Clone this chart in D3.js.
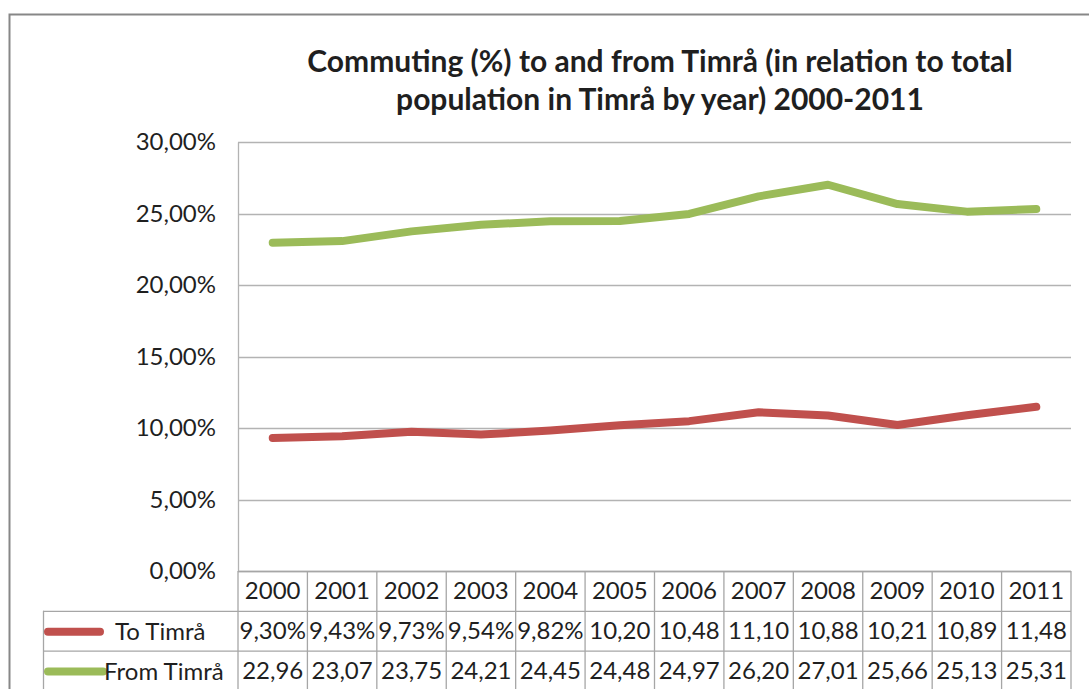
<!DOCTYPE html>
<html>
<head>
<meta charset="utf-8">
<script src="https://cdn.jsdelivr.net/npm/d3@7"></script>
<style>
  html, body { margin: 0; padding: 0; background: #fff; }
  svg { display: block; }
  text { font-family: Lato, "Open Sans", sans-serif; fill: #1f1f1f; }
</style>
</head>
<body>
<svg id="chart" width="1089" height="689"></svg>
<script>
// Commuting share by year
const years = ["2000","2001","2002","2003","2004","2005","2006","2007","2008","2009","2010","2011"];
const toTimra   = [9.30, 9.43, 9.73, 9.54, 9.82, 10.20, 10.48, 11.10, 10.88, 10.21, 10.89, 11.48];
const fromTimra = [22.96, 23.07, 23.75, 24.21, 24.45, 24.48, 24.97, 26.20, 27.01, 25.66, 25.13, 25.31];
// Cell text as shown in the data table (narrow cells clip the trailing %)
const toLabels   = ["9,30%","9,43%","9,73%","9,54%","9,82%","10,20","10,48","11,10","10,88","10,21","10,89","11,48"];
const fromLabels = ["22,96","23,07","23,75","24,21","24,45","24,48","24,97","26,20","27,01","25,66","25,13","25,31"];
const yTicks = [0, 5, 10, 15, 20, 25, 30];
const seriesNames = ["To Timrå", "From Timrå"];
const titleLines = ["Commuting (%) to and from Timrå (in relation to total", "population in Timrå by year) 2000-2011"];

const svg = d3.select("#chart");
const plot = { left: 238, right: 1071, top: 142, bottom: 571 };
const rowH = 39.8;
const legendLeft = 43;
const colors = ["#C0504D", "#9BBB59"];
const gridColor = "#b3b3b3";
const tableFont = "24px";

// outer chart frame
svg.append("rect")
  .attr("x", 9.5).attr("y", 14.5)
  .attr("width", 1100).attr("height", 700)
  .attr("fill", "none").attr("stroke", "#878787").attr("stroke-width", 2);

// title
svg.append("g").selectAll("text").data(titleLines).join("text")
  .attr("x", 660).attr("y", (d, i) => 72 + i * 38)
  .attr("text-anchor", "middle")
  .style("font-weight", "bold").style("font-size", "30px")
  .text(d => d);

const x = d3.scaleBand().domain(years).range([plot.left, plot.right]);
const y = d3.scaleLinear().domain([0, 30]).range([plot.bottom, plot.top]);

// horizontal gridlines
svg.append("g").selectAll("line").data(yTicks).join("line")
  .attr("x1", plot.left).attr("x2", plot.right)
  .attr("y1", d => Math.round(y(d)) + 0.5).attr("y2", d => Math.round(y(d)) + 0.5)
  .attr("stroke", gridColor).attr("stroke-width", 1.3);

// y axis
const yAxis = d3.axisLeft(y).tickValues(yTicks)
  .tickFormat(d => d3.format(".2f")(d).replace(".", ",") + "%")
  .tickSize(0).tickPadding(22);
const ya = svg.append("g").attr("transform", `translate(${plot.left},0)`).call(yAxis);
ya.select(".domain").attr("stroke", gridColor).attr("stroke-width", 1.3);
ya.selectAll("text").style("font-size", "24px").style("font-family", "Lato, sans-serif").attr("fill", "#1f1f1f");

// lines
const line = d3.line().x((d, i) => x(years[i]) + x.bandwidth() / 2).y(d => y(d));
[toTimra, fromTimra].forEach((s, k) => {
  svg.append("path").datum(s)
    .attr("d", line)
    .attr("fill", "none")
    .attr("stroke", colors[k]).attr("stroke-width", 8)
    .attr("stroke-linecap", "round").attr("stroke-linejoin", "round");
});

// data table
const tbl = svg.append("g");
const rowsTop = [plot.bottom, plot.bottom + rowH, plot.bottom + 2 * rowH];
const tableBottom = plot.bottom + 3 * rowH + 1;
const tStroke = "#a6a6a6";
// horizontal rules
tbl.append("line").attr("x1", plot.left).attr("x2", plot.right)
  .attr("y1", rowsTop[0] + 0.5).attr("y2", rowsTop[0] + 0.5).attr("stroke", tStroke).attr("stroke-width", 1.3);
[rowsTop[1], rowsTop[2], tableBottom].forEach(yy => {
  tbl.append("line").attr("x1", legendLeft).attr("x2", plot.right)
    .attr("y1", yy + 0.5).attr("y2", yy + 0.5).attr("stroke", tStroke).attr("stroke-width", 1.3);
});
// vertical rules
const colEdges = years.map(d => x(d)).concat([plot.right]);
tbl.selectAll("line.col").data(colEdges).join("line").attr("class", "col")
  .attr("x1", d => d).attr("x2", d => d)
  .attr("y1", rowsTop[0]).attr("y2", tableBottom)
  .attr("stroke", tStroke).attr("stroke-width", 1.3);
tbl.append("line").attr("x1", legendLeft + 0.5).attr("x2", legendLeft + 0.5)
  .attr("y1", rowsTop[1]).attr("y2", tableBottom).attr("stroke", tStroke).attr("stroke-width", 1.3);

// year header
tbl.selectAll("text.yr").data(years).join("text").attr("class", "yr")
  .attr("x", d => x(d) + x.bandwidth() / 2).attr("y", rowsTop[0] + rowH / 2 + 8)
  .attr("text-anchor", "middle").style("font-size", tableFont).text(d => d);

// value rows
[toLabels, fromLabels].forEach((labels, k) => {
  tbl.selectAll(`text.v${k}`).data(labels).join("text").attr("class", `v${k}`)
    .attr("x", (d, i) => x(years[i]) + x.bandwidth() / 2)
    .attr("y", rowsTop[k + 1] + rowH / 2 + 8)
    .attr("text-anchor", "middle").style("font-size", tableFont).text(d => d);
});

// legend keys
const keyX = [[48, 100], [48, 103]];
const labelX = [115, 104];
seriesNames.forEach((name, k) => {
  const cy = rowsTop[k + 1] + rowH / 2 + 1;
  tbl.append("line").attr("x1", keyX[k][0]).attr("x2", keyX[k][1])
    .attr("y1", cy).attr("y2", cy)
    .attr("stroke", colors[k]).attr("stroke-width", 8).attr("stroke-linecap", "round");
  tbl.append("text").attr("x", labelX[k]).attr("y", cy + 8)
    .style("font-size", tableFont).text(name);
});
</script>
</body>
</html>
